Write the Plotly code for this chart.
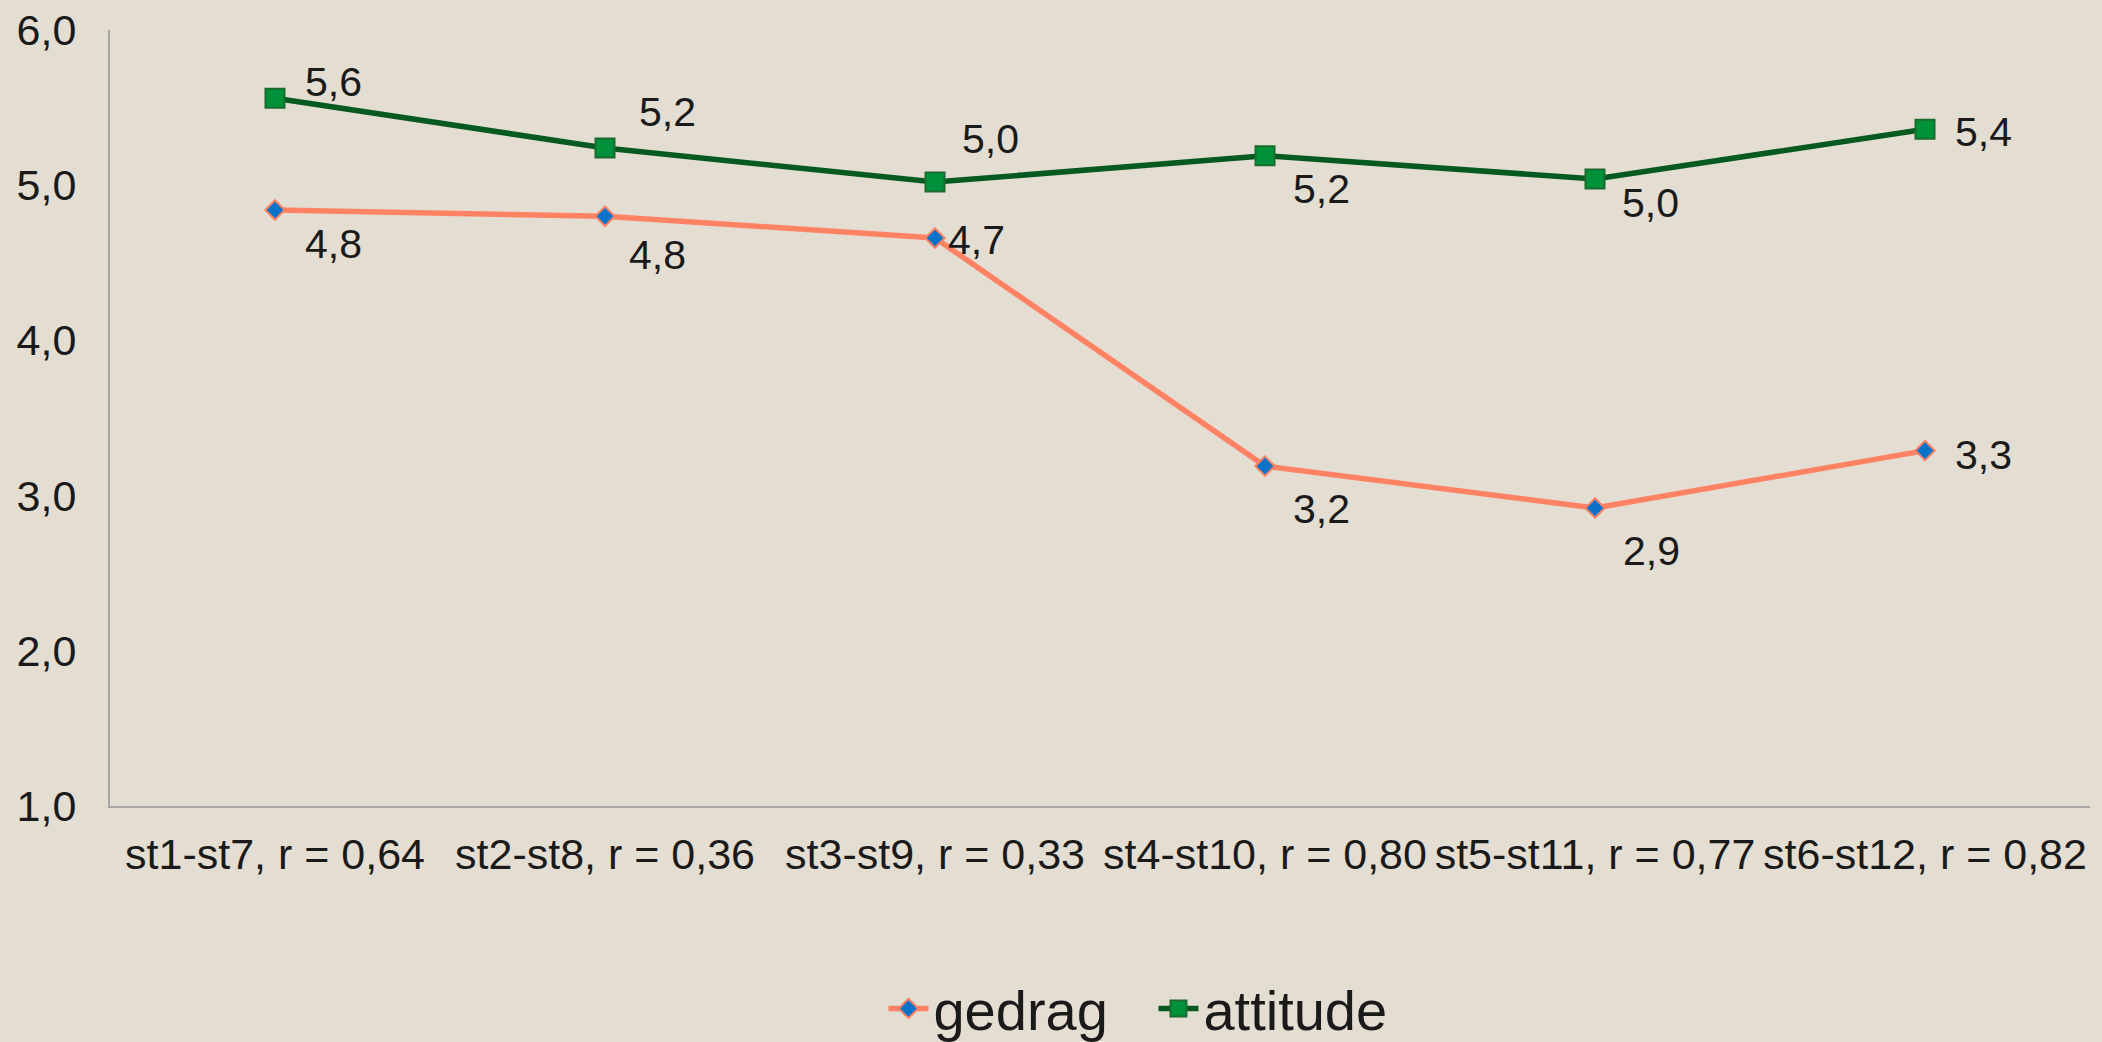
import plotly.graph_objects as go

categories = ["st1-st7, r = 0,64", "st2-st8, r = 0,36", "st3-st9, r = 0,33",
              "st4-st10, r = 0,80", "st5-st11, r = 0,77", "st6-st12, r = 0,82"]
gedrag = [4.84, 4.80, 4.66, 3.19, 2.92, 3.29]
attitude = [5.56, 5.24, 5.02, 5.19, 5.04, 5.36]
y_ticks = [1, 2, 3, 4, 5, 6]

# label offsets in pixels (dx right, dy down) relative to each marker
gedrag_offsets = [(58, 34), (52, 39), (41, 2), (56, 43), (56, 43), (58, 4)]
attitude_offsets = [(58, -16), (62, -36), (55, -43), (56, 33), (55, 24), (58, 3)]

FONT = "Helvetica Neue, Liberation Sans, Arial, sans-serif"
TXT = "#1a1a1a"
BG = "#E4DDD2"


def fmt(v):
    return f"{v:.1f}".replace(".", ",")


fig = go.Figure()
fig.add_trace(go.Scatter(
    x=categories, y=gedrag, name="gedrag", mode="lines+markers",
    line=dict(color="#FF8264", width=5.5),
    marker=dict(symbol="diamond", size=15, color="#0A72C8",
                line=dict(color="#FF8264", width=2)),
))
fig.add_trace(go.Scatter(
    x=categories, y=attitude, name="attitude", mode="lines+markers",
    line=dict(color="#065A20", width=5.5),
    marker=dict(symbol="square", size=19, color="#00923A",
                line=dict(color="#1A6B2E", width=2)),
))

annotations = []
for vals, offs in ((gedrag, gedrag_offsets), (attitude, attitude_offsets)):
    for c, v, (dx, dy) in zip(categories, vals, offs):
        annotations.append(dict(
            x=c, y=v, xref="x", yref="y", text=fmt(v), showarrow=False,
            xshift=dx, yshift=-dy, font=dict(family=FONT, size=41, color=TXT),
            xanchor="center", yanchor="middle",
        ))

fig.update_layout(
    width=2102, height=1042,
    paper_bgcolor=BG, plot_bgcolor=BG,
    margin=dict(l=110, r=12, t=30, b=236, autoexpand=False),
    separators=",.",
    font=dict(family=FONT, color=TXT, size=40),
    showlegend=True,
    legend=dict(orientation="h", x=0.527, xanchor="center", y=-0.261, yanchor="middle",
                font=dict(family=FONT, size=56, color=TXT), bgcolor="rgba(0,0,0,0)",
                itemwidth=40, entrywidth=215, entrywidthmode="pixels"),
    annotations=annotations,
    xaxis=dict(type="category", range=[-0.5, 5.5], showgrid=False, zeroline=False,
               showline=True, linecolor="#A6A6A6", linewidth=2, ticks="",
               tickfont=dict(family=FONT, size=43, color=TXT), ticklabelstandoff=9),
    yaxis=dict(range=[1, 6], tickvals=y_ticks, tickformat=".1f", showgrid=False,
               zeroline=False, showline=True, linecolor="#A6A6A6", linewidth=2,
               ticks="", tickfont=dict(family=FONT, size=43, color=TXT),
               ticklabelstandoff=23),
)

fig.write_html("out.html", config={"displayModeBar": False},
               post_script="document.body.style.margin='0';document.body.style.overflow='hidden';")
